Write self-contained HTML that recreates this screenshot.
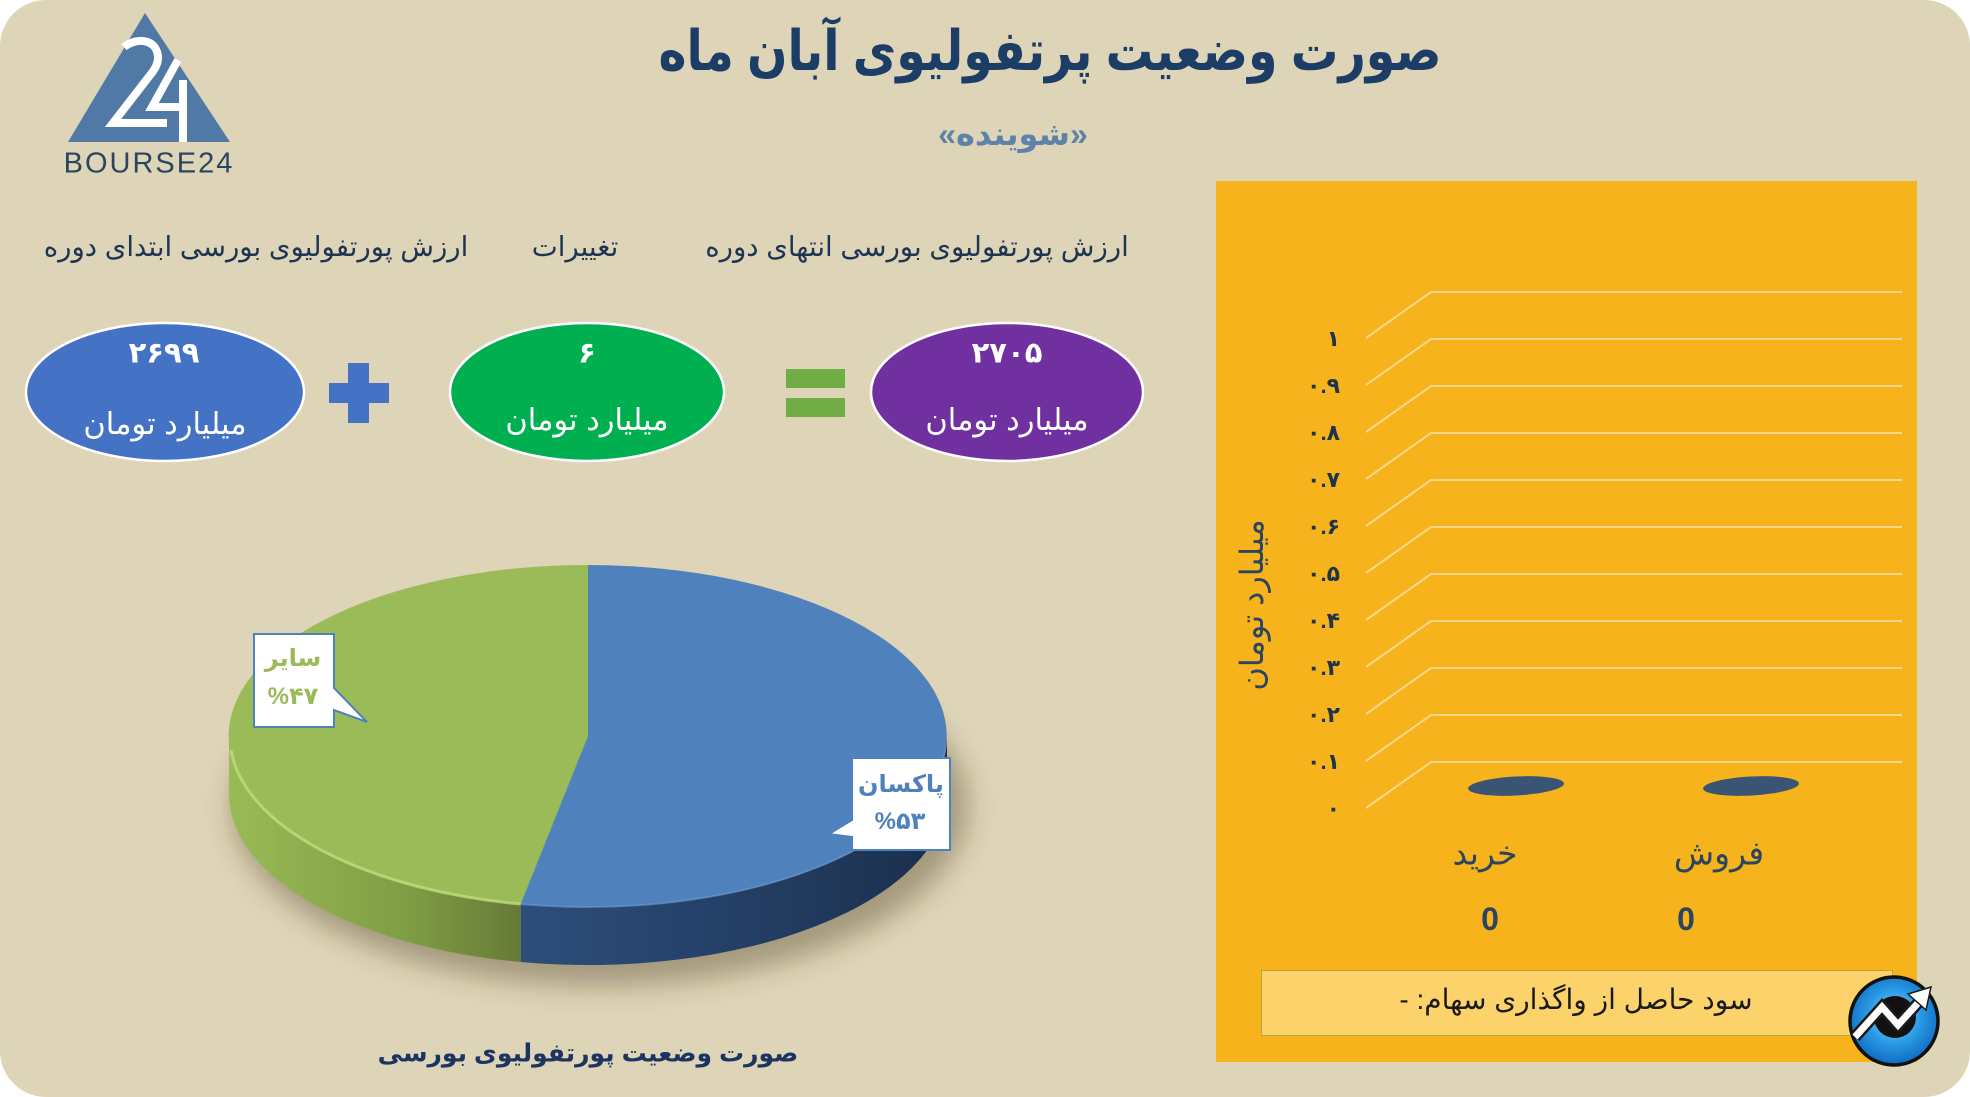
<!DOCTYPE html>
<html lang="fa">
<head>
<meta charset="utf-8">
<style>
  html,body{margin:0;padding:0;}
  body{width:1970px;height:1097px;background:#ffffff;position:relative;overflow:hidden;
       font-family:"Liberation Sans","DejaVu Sans",sans-serif;}
  .bg{position:absolute;left:0;top:0;width:1970px;height:1097px;background:#ded4b8;border-radius:46px;}
  .c{position:absolute;transform:translate(-50%,-50%);white-space:nowrap;line-height:1;}
  .rtl{direction:rtl;}
  .panel{position:absolute;left:1216px;top:181px;width:701px;height:881px;background:#f6b31b;}
  .box{position:absolute;left:1261px;top:970px;width:632px;height:66px;background:#fcd36b;border:1px solid #b9a33a;box-sizing:border-box;}
  svg{position:absolute;left:0;top:0;}
</style>
</head>
<body>
<div class="bg"></div>
<div class="panel"></div>
<div class="box"></div>

<svg width="1970" height="1097" viewBox="0 0 1970 1097">
  <defs>
    <linearGradient id="gBlueSide" x1="521" y1="0" x2="947" y2="0" gradientUnits="userSpaceOnUse">
      <stop offset="0" stop-color="#2d4e7b"/>
      <stop offset="0.5" stop-color="#243f66"/>
      <stop offset="1" stop-color="#1b2f4c"/>
    </linearGradient>
    <linearGradient id="gGreenSide" x1="229" y1="0" x2="521" y2="0" gradientUnits="userSpaceOnUse">
      <stop offset="0" stop-color="#9aba57"/>
      <stop offset="0.6" stop-color="#809e44"/>
      <stop offset="1" stop-color="#667a37"/>
    </linearGradient>
    <radialGradient id="gIcon" cx="0.5" cy="0.45" r="0.55">
      <stop offset="0" stop-color="#9ad9fb"/>
      <stop offset="0.55" stop-color="#2a9ae6"/>
      <stop offset="1" stop-color="#0f6cc0"/>
    </radialGradient>
    <filter id="blur" x="-30%" y="-30%" width="160%" height="160%">
      <feGaussianBlur stdDeviation="13"/>
    </filter>
  </defs>

  <!-- logo -->
  <polygon points="145,13 68,142 230,142" fill="#5079a6"/>
  <path d="M124 47 C138 36 158 40 158 58 C158 64 155 69 151 74 L113 123 L167 123" fill="none" stroke="#ffffff" stroke-width="8" stroke-linejoin="miter"/>
  <path d="M178 60 L152 107 L183 107 M183 80 L183 142" fill="none" stroke="#ffffff" stroke-width="8"/>

  <!-- plus -->
  <rect x="329" y="383" width="60" height="20" fill="#4472c4"/>
  <rect x="348" y="363" width="21" height="60" fill="#4472c4"/>
  <!-- equals -->
  <rect x="786" y="369" width="59" height="19" fill="#70ad47"/>
  <rect x="786" y="398" width="59" height="19" fill="#70ad47"/>

  <!-- ovals -->
  <ellipse cx="165" cy="392" rx="139" ry="69" fill="#4472c4" stroke="#ffffff" stroke-width="2.5"/>
  <ellipse cx="587" cy="392" rx="137" ry="69" fill="#00b050" stroke="#ffffff" stroke-width="2.5"/>
  <ellipse cx="1007" cy="392" rx="136" ry="69" fill="#7030a0" stroke="#ffffff" stroke-width="2.5"/>

  <!-- pie shadow -->
  <ellipse cx="600" cy="806" rx="368" ry="180" fill="rgba(70,55,30,0.38)" filter="url(#blur)"/>
  <!-- pie sides -->
  <path d="M947 736 A359 171 0 0 1 520.7 904 L520.7 962 A359 171 0 0 0 947 794 Z" fill="url(#gBlueSide)"/>
  <path d="M520.7 904 A359 171 0 0 1 229 736 L229 794 A359 171 0 0 0 520.7 962 Z" fill="url(#gGreenSide)"/>
  <!-- pie top -->
  <path d="M588 736 L588 565 A359 171 0 1 1 520.7 904 Z" fill="#4f81bd"/>
  <path d="M588 736 L520.7 904 A359 171 0 0 1 588 565 Z" fill="#9bbb59"/>
  <path d="M520.7 904 A359 171 0 0 1 231 750" fill="none" stroke="#c2dc80" stroke-width="3" opacity="0.8"/>
  <path d="M945 750 A359 171 0 0 1 520.7 904" fill="none" stroke="#6c97cc" stroke-width="2" opacity="0.6"/>

  <!-- callout sayer -->
  <path d="M254 634 L334 634 L334 688 L367 722 L334 710 L334 727 L254 727 Z" fill="#ffffff" stroke="#4f81bd" stroke-width="2"/>
  <!-- callout paksan -->
  <path d="M852 758 L950 758 L950 850 L852 850 L852 837 L829 834 L852 820 Z" fill="#ffffff" stroke="#4f81bd" stroke-width="2"/>

  <!-- chart grid -->
  <g stroke="#f8d88c" stroke-width="2" fill="none">
    <path d="M1366 808 L1431 762 L1902 762"/>
    <path d="M1366 761 L1431 715 L1902 715"/>
    <path d="M1366 714 L1431 668 L1902 668"/>
    <path d="M1366 667 L1431 621 L1902 621"/>
    <path d="M1366 620 L1431 574 L1902 574"/>
    <path d="M1366 573 L1431 527 L1902 527"/>
    <path d="M1366 526 L1431 480 L1902 480"/>
    <path d="M1366 479 L1431 433 L1902 433"/>
    <path d="M1366 432 L1431 386 L1902 386"/>
    <path d="M1366 385 L1431 339 L1902 339"/>
    <path d="M1366 338 L1431 292 L1902 292"/>
  </g>
  <!-- zero-height bars -->
  <ellipse cx="1516" cy="786" rx="48" ry="9.5" fill="#3a5574" transform="rotate(-3 1516 786)"/>
  <ellipse cx="1751" cy="786" rx="48" ry="9.5" fill="#3a5574" transform="rotate(-3 1751 786)"/>

  <!-- tick labels -->
  <g font-family="Liberation Sans, DejaVu Sans, sans-serif" font-weight="bold" font-size="22" fill="#1f3349" text-anchor="end">
    <text x="1340" y="346">۱</text>
    <text x="1340" y="393">۰.۹</text>
    <text x="1340" y="440">۰.۸</text>
    <text x="1340" y="487">۰.۷</text>
    <text x="1340" y="534">۰.۶</text>
    <text x="1340" y="581">۰.۵</text>
    <text x="1340" y="628">۰.۴</text>
    <text x="1340" y="675">۰.۳</text>
    <text x="1340" y="722">۰.۲</text>
    <text x="1340" y="769">۰.۱</text>
    <text x="1340" y="816">۰</text>
  </g>

  <!-- icon bottom right -->
  <circle cx="1894" cy="1021" r="44" fill="url(#gIcon)" stroke="#111111" stroke-width="3.5"/>
  <circle cx="1895" cy="1017" r="21" fill="#111111"/>
  <polyline points="1855,1037 1882,1007 1898,1025 1918,1003" fill="none" stroke="#1a1a1a" stroke-width="12" stroke-linejoin="miter"/>
  <polyline points="1855,1037 1882,1007 1898,1025 1918,1003" fill="none" stroke="#ffffff" stroke-width="7" stroke-linejoin="miter"/>
  <polygon points="1931,987 1926,1010 1908,994" fill="#ffffff" stroke="#1a1a1a" stroke-width="1.5"/>
</svg>

<!-- logo text -->
<div class="c" style="left:149px;top:164px;font-size:29px;color:#2b4560;letter-spacing:2px;">BOURSE24</div>

<!-- title -->
<div class="c rtl" style="left:1050px;top:51px;font-size:50px;font-weight:bold;color:#1c3d66;transform:translate(-50%,-50%) scale(0.95,1.12);">صورت وضعیت پرتفولیوی آبان ماه</div>
<div class="c rtl" style="left:1013px;top:134px;font-size:32px;font-weight:bold;color:#5e82a8;">«شوینده»</div>

<!-- row labels -->
<div class="c rtl" style="left:256px;top:247px;font-size:27.6px;color:#1d3553;">ارزش پورتفولیوی بورسی ابتدای دوره</div>
<div class="c rtl" style="left:575px;top:247px;font-size:27.6px;color:#1d3553;">تغییرات</div>
<div class="c rtl" style="left:917px;top:247px;font-size:27.6px;color:#1d3553;">ارزش پورتفولیوی بورسی انتهای دوره</div>

<!-- oval texts -->
<div class="c" style="left:164px;top:354px;font-size:29px;font-weight:bold;color:#ffffff;">۲۶۹۹</div>
<div class="c rtl" style="left:165px;top:424px;font-size:30.5px;color:#ffffff;">میلیارد تومان</div>
<div class="c" style="left:587px;top:354px;font-size:29px;font-weight:bold;color:#ffffff;">۶</div>
<div class="c rtl" style="left:587px;top:420px;font-size:30.5px;color:#ffffff;">میلیارد تومان</div>
<div class="c" style="left:1007px;top:354px;font-size:29px;font-weight:bold;color:#ffffff;">۲۷۰۵</div>
<div class="c rtl" style="left:1007px;top:420px;font-size:30.5px;color:#ffffff;">میلیارد تومان</div>

<!-- pie callout texts -->
<div class="c rtl" style="left:293px;top:659px;font-size:24px;font-weight:bold;color:#9bbb59;">سایر</div>
<div class="c" style="left:293px;top:697px;font-size:24px;font-weight:bold;color:#9bbb59;">%۴۷</div>
<div class="c rtl" style="left:901px;top:785px;font-size:24px;font-weight:bold;color:#4f81bd;">پاکسان</div>
<div class="c" style="left:900px;top:822px;font-size:24px;font-weight:bold;color:#4f81bd;">%۵۳</div>

<!-- pie caption -->
<div class="c rtl" style="left:588px;top:1054px;font-size:25px;font-weight:bold;color:#1c3560;">صورت وضعیت پورتفولیوی بورسی</div>

<!-- chart texts -->
<div class="c rtl" style="left:1252px;top:605px;font-size:32px;color:#2b4560;transform:translate(-50%,-50%) rotate(-90deg);">میلیارد تومان</div>
<div class="c rtl" style="left:1485px;top:853px;font-size:33px;color:#2b4560;">خرید</div>
<div class="c rtl" style="left:1719px;top:853px;font-size:33px;color:#2b4560;">فروش</div>
<div class="c" style="left:1490px;top:919px;font-size:32px;font-weight:bold;color:#2b4560;">0</div>
<div class="c" style="left:1686px;top:919px;font-size:32px;font-weight:bold;color:#2b4560;">0</div>
<div class="c rtl" style="left:1576px;top:1000px;font-size:28px;color:#1a1a1a;">سود حاصل از واگذاری سهام: -</div>

</body>
</html>
